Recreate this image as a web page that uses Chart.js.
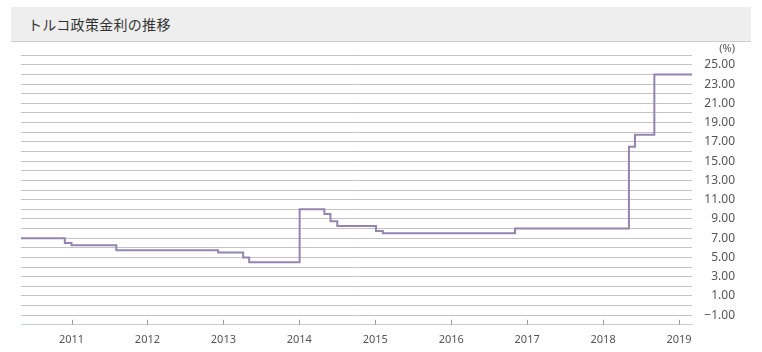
<!DOCTYPE html>
<html lang="ja">
<head>
<meta charset="utf-8">
<script src="https://cdn.jsdelivr.net/npm/chart.js@4/dist/chart.umd.min.js"></script>
<style>
  html, body { margin: 0; padding: 0; background: #fff; }
  body { width: 762px; height: 352px; position: relative; overflow: hidden; }
  .head {
    position: absolute; left: 11px; top: 7px; width: 740px; height: 34px;
    background: #eeeeee; border-bottom: 1px solid #cccccc; box-sizing: content-box;
  }
  .head h2 {
    margin: 0; position: absolute; left: 17px; top: 7px;
    font: 14px "Noto Sans CJK JP", "Noto Sans", sans-serif; font-weight: normal; color: #333;
    letter-spacing: 0.3px;
  }
  #rateChart { position: absolute; left: 0; top: 42px; }
</style>
</head>
<body>
<div class="head"><h2>トルコ政策金利の推移</h2></div>
<canvas id="rateChart" width="762" height="312"></canvas>
<script>
// ── Turkey policy rate (step line) ──

// change dates as decimal years
const rateDates = [2010.335, 2010.912, 2011.0, 2011.59, 2012.93, 2013.26, 2013.34, 2014.004, 2014.33, 2014.41, 2014.5, 2015.01, 2015.10, 2016.84, 2018.34, 2018.42, 2018.675, 2019.175];
const rateValues = [7.0, 6.5, 6.25, 5.75, 5.5, 5.0, 4.5, 10.0, 9.5, 8.75, 8.25, 7.75, 7.5, 8.0, 16.5, 17.75, 24.0, 24.0];

const yearTicks = [2011, 2012, 2013, 2014, 2015, 2016, 2017, 2018, 2019];
const rateTicks = [-2, -1, 0, 1, 2, 3, 4, 5, 6, 7, 8, 9, 10, 11, 12, 13, 14, 15, 16, 17, 18, 19, 20, 21, 22, 23, 24, 25, 26];
const xRange = [2010.335, 2019.175];

const points = rateDates.map((d, i) => ({ x: d, y: rateValues[i] }));

// small ticks standing up from the x axis + "(%)" unit label
const axisDecor = {
  id: 'axisDecor',
  afterDraw(chart) {
    const ctx = chart.ctx;
    const xs = chart.scales.x;
    const ys = chart.scales.y;
    const base = chart.chartArea.bottom;
    ctx.save();
    ctx.strokeStyle = '#999';
    ctx.lineWidth = 1;
    yearTicks.forEach(yr => {
      const px = Math.round(xs.getPixelForValue(yr)) + 0.5;
      ctx.beginPath();
      ctx.moveTo(px, base - 5);
      ctx.lineTo(px, base);
      ctx.stroke();
    });
    ctx.fillStyle = '#555';
    ctx.font = '11px "Noto Sans", sans-serif';
    ctx.textAlign = 'right';
    ctx.textBaseline = 'middle';
    ctx.fillText('(%)', ys.right, chart.chartArea.top - 6);
    ctx.restore();
  }
};

new Chart(document.getElementById('rateChart'), {
  type: 'line',
  data: {
    datasets: [{
      data: points,
      stepped: true,
      borderColor: '#9484b2',
      borderWidth: 2,
      pointRadius: 0,
      fill: false,
      tension: 0
    }]
  },
  options: {
    responsive: false,
    animation: false,
    layout: { padding: { left: 21, right: 27, top: 2, bottom: 0 } },
    plugins: { legend: { display: false }, tooltip: { enabled: false } },
    scales: {
      x: {
        type: 'linear',
        min: xRange[0], max: xRange[1],
        afterBuildTicks: s => { s.ticks = yearTicks.map(v => ({ value: v })); },
        grid: { display: false, drawTicks: false },
        border: { display: true, color: '#c3cde0', width: 1 },
        ticks: { color: '#555', padding: 8, maxRotation: 0, autoSkip: false, font: { size: 11, family: '"Noto Sans", sans-serif' }, callback: v => String(v) }
      },
      y: {
        position: 'right',
        min: rateTicks[0], max: rateTicks[rateTicks.length - 1],
        afterBuildTicks: s => { s.ticks = rateTicks.map(v => ({ value: v })); },
        grid: { color: '#c4c4c4', drawTicks: false, lineWidth: 1 },
        border: { display: false },
        ticks: {
          color: '#555', padding: 6, crossAlign: 'far', autoSkip: false,
          font: { size: 12, family: '"Noto Sans", sans-serif' },
          callback: v => (Math.abs(v) % 2 === 1 ? v.toFixed(2).replace('-', '\u2212') : '')
        }
      }
    }
  },
  plugins: [axisDecor]
});
</script>
</body>
</html>
